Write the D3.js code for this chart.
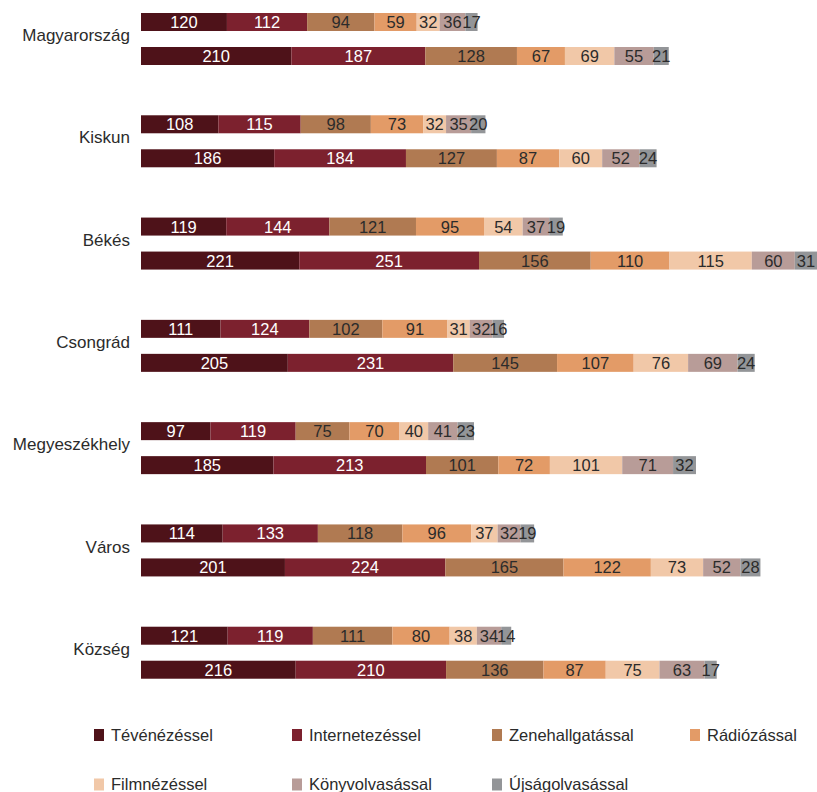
<!DOCTYPE html>
<html>
<head>
<meta charset="utf-8">
<script src="https://cdn.jsdelivr.net/npm/d3@7"></script>
<style>
body { margin: 0; background: #fff; }
svg text { font-family: "Liberation Sans", Arial, sans-serif; }
</style>
</head>
<body>
<svg id="chart" width="817" height="792"></svg>
<script>
const groups = ["Magyarország", "Kiskun", "Békés", "Csongrád", "Megyeszékhely", "Város", "Község"];
const seriesNames = ["Tévénézéssel", "Internetezéssel", "Zenehallgatással", "Rádiózással", "Filmnézéssel", "Könyvolvasással", "Újságolvasással"];
const colors = ["#4e1219", "#7c212e", "#b07a52", "#e39b67", "#f1c8a8", "#b89c98", "#939598"];
const rows = ["felső", "alsó"];
// values per group: [upper bar, lower bar], each in series order
const magyarorszag = [[120, 112, 94, 59, 32, 36, 17], [210, 187, 128, 67, 69, 55, 21]];
const kiskun = [[108, 115, 98, 73, 32, 35, 20], [186, 184, 127, 87, 60, 52, 24]];
const bekes = [[119, 144, 121, 95, 54, 37, 19], [221, 251, 156, 110, 115, 60, 31]];
const csongrad = [[111, 124, 102, 91, 31, 32, 16], [205, 231, 145, 107, 76, 69, 24]];
const megyeszekhely = [[97, 119, 75, 70, 40, 41, 23], [185, 213, 101, 72, 101, 71, 32]];
const varos = [[114, 133, 118, 96, 37, 32, 19], [201, 224, 165, 122, 73, 52, 28]];
const kozseg = [[121, 119, 111, 80, 38, 34, 14], [216, 210, 136, 87, 75, 63, 17]];
const values = [magyarorszag, kiskun, bekes, csongrad, megyeszekhely, varos, kozseg];

const svg = d3.select("#chart");
const x = d3.scaleLinear().domain([0, 944]).range([141, 817]);
const y0 = d3.scaleBand().domain(groups).range([0, 716]);
const y1 = d3.scaleBand().domain(rows).range([13, 65]).paddingInner(0.4706).paddingOuter(0);
const color = d3.scaleOrdinal().domain(seriesNames).range(colors);
const darkText = new Set(["Tévénézéssel", "Internetezéssel"]);

const segs = [];
groups.forEach((g, gi) => {
  rows.forEach((r, ri) => {
    let acc = 0;
    values[gi][ri].forEach((v, si) => {
      segs.push({ g, r, s: seriesNames[si], v, x0: acc, x1: acc + v });
      acc += v;
    });
  });
});

const gSeg = svg.append("g");
gSeg.selectAll("rect").data(segs).join("rect")
  .attr("x", d => x(d.x0))
  .attr("y", d => y0(d.g) + y1(d.r))
  .attr("width", d => x(d.x1) - x(d.x0))
  .attr("height", y1.bandwidth())
  .attr("fill", d => color(d.s));

gSeg.selectAll("text").data(segs).join("text")
  .attr("x", d => (x(d.x0) + x(d.x1)) / 2)
  .attr("y", d => y0(d.g) + y1(d.r) + y1.bandwidth() / 2)
  .attr("dy", "0.36em")
  .attr("text-anchor", "middle")
  .attr("font-size", 16.5)
  .attr("fill", d => darkText.has(d.s) ? "#ffffff" : "#2b2b2b")
  .text(d => d.v);

// group labels
svg.append("g").selectAll("text").data(groups).join("text")
  .attr("x", 130)
  .attr("y", g => y0(g) + 35)
  .attr("dy", "0.36em")
  .attr("text-anchor", "end")
  .attr("font-size", 17)
  .attr("fill", "#2b2b2b")
  .text(g => g);

// legend
const legX = [94, 292, 492, 690];
const legY = [735, 784.5];
const leg = svg.append("g").selectAll("g").data(seriesNames).join("g")
  .attr("transform", (d, i) => `translate(${legX[i % 4]},${legY[Math.floor(i / 4)]})`);
leg.append("rect").attr("x", 0).attr("y", -6).attr("width", 10).attr("height", 12).attr("fill", d => color(d));
leg.append("text").attr("x", 17).attr("y", 0).attr("dy", "0.36em")
  .attr("font-size", 16.5).attr("fill", "#2b2b2b")
  .text(d => d);
</script>
</body>
</html>
